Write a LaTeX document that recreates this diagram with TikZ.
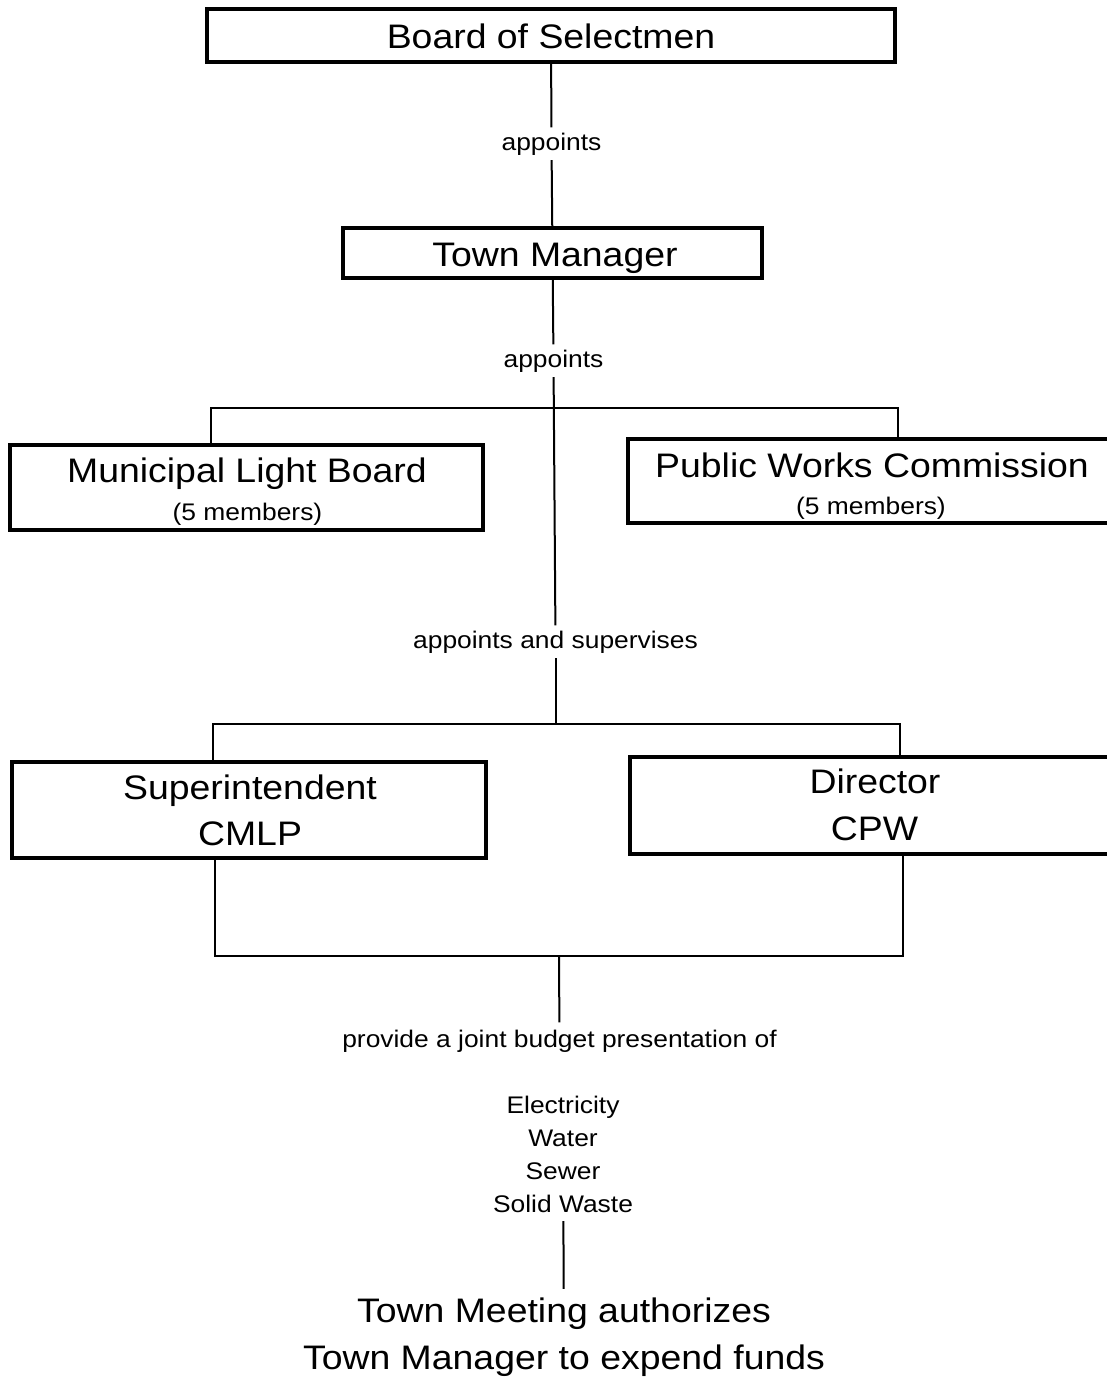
\documentclass[tikz,border=0pt]{standalone}
\usepackage{fontspec}
\setmainfont{Liberation Sans}[FakeStretch=1.1]
\newcommand\bigtxt{\fontsize{34}{47}\selectfont}
\newcommand\smalltxt{\fontsize{24}{33}\selectfont}
\begin{document}
\begin{tikzpicture}[x=1pt,y=-1pt,
  box/.style={draw, line width=3.5pt, inner sep=0pt, rectangle},
  bigt/.style={font=\bigtxt, inner sep=0pt, anchor=base},
  smallt/.style={font=\smalltxt, inner sep=0pt, anchor=base},
  lbl/.style={font=\smalltxt, inner sep=5pt, anchor=base},
  conn/.style={line width=2pt}]
\useasboundingbox (0,0) rectangle (1107,1378);

% boxes
\node[box, minimum width=688pt, minimum height=53pt] (bos) at (551,35.5) {};
\node[box, minimum width=419pt, minimum height=50pt] (tm) at (552.5,253) {};
\node[box, minimum width=473pt, minimum height=85pt] (mlb) at (246.5,487.5) {};
\node[box, minimum width=488pt, minimum height=84pt] (pwc) at (872,481) {};
\node[box, minimum width=474pt, minimum height=96pt] (sup) at (249,810) {};
\node[box, minimum width=490pt, minimum height=97pt] (dir) at (875,805.5) {};

% box texts
\node[bigt] (bost) at (551,49) {Board of Selectmen};
\node[bigt] (tmtx) at (555,266) {Town Manager};
\node[bigt] (mlbt) at (247,482) {Municipal Light Board};
\node[smallt] (mlbm) at (247.5,520) {(5 members)};
\node[bigt] (pwct) at (872,477) {Public Works Commission};
\node[smallt] (pwcm) at (871,514) {(5 members)};
\node[bigt] (supt) at (250,799) {Superintendent};
\node[bigt] (supc) at (250,845) {CMLP};
\node[bigt] (dirt) at (875,793) {Director};
\node[bigt] (dirc) at (874.5,840) {CPW};

% connector labels
\node[lbl] (ap1) at (551.5,150) {appoints};
\node[lbl] (ap2) at (553.5,367) {appoints};
\node[lbl] (ap3) at (555.5,648) {appoints and supervises};
\node[lbl, inner sep=7pt] (pjb) at (559.5,1047) {provide a joint budget presentation of};
\node[font=\smalltxt, align=center, inner sep=8pt] (lst) at (563,1154.5) {Electricity\\Water\\Sewer\\Solid Waste};
\node[font=\bigtxt, align=center, inner sep=9pt] (tmt) at (564,1337.5) {Town Meeting authorizes\\Town Manager to expend funds};

% junctions
\coordinate (j1) at (554,408);
\coordinate (j2) at (555.5,724);
\coordinate (j3) at (559,956);
\coordinate (m1) at (211,0);
\coordinate (p1) at (898,0);
\coordinate (s1) at (213,0);
\coordinate (d1) at (900,0);
\coordinate (s2) at (215,0);
\coordinate (d2) at (903,0);

% connectors
\draw[conn] (bos) -- (ap1);
\draw[conn] (ap1) -- (tm);
\draw[conn] (tm) -- (ap2);
\draw[conn] (ap2) -- (ap3);
\draw[conn] (ap3) -- (j2);
\draw[conn] (mlb.north -| m1) |- (j1) -| (pwc.north -| p1);
\draw[conn] (sup.north -| s1) |- (j2) -| (dir.north -| d1);
\draw[conn] (sup.south -| s2) |- (j3) -| (dir.south -| d2);
\draw[conn] (j3) -- (pjb);
\draw[conn] (lst) -- (tmt);
\end{tikzpicture}
\end{document}
